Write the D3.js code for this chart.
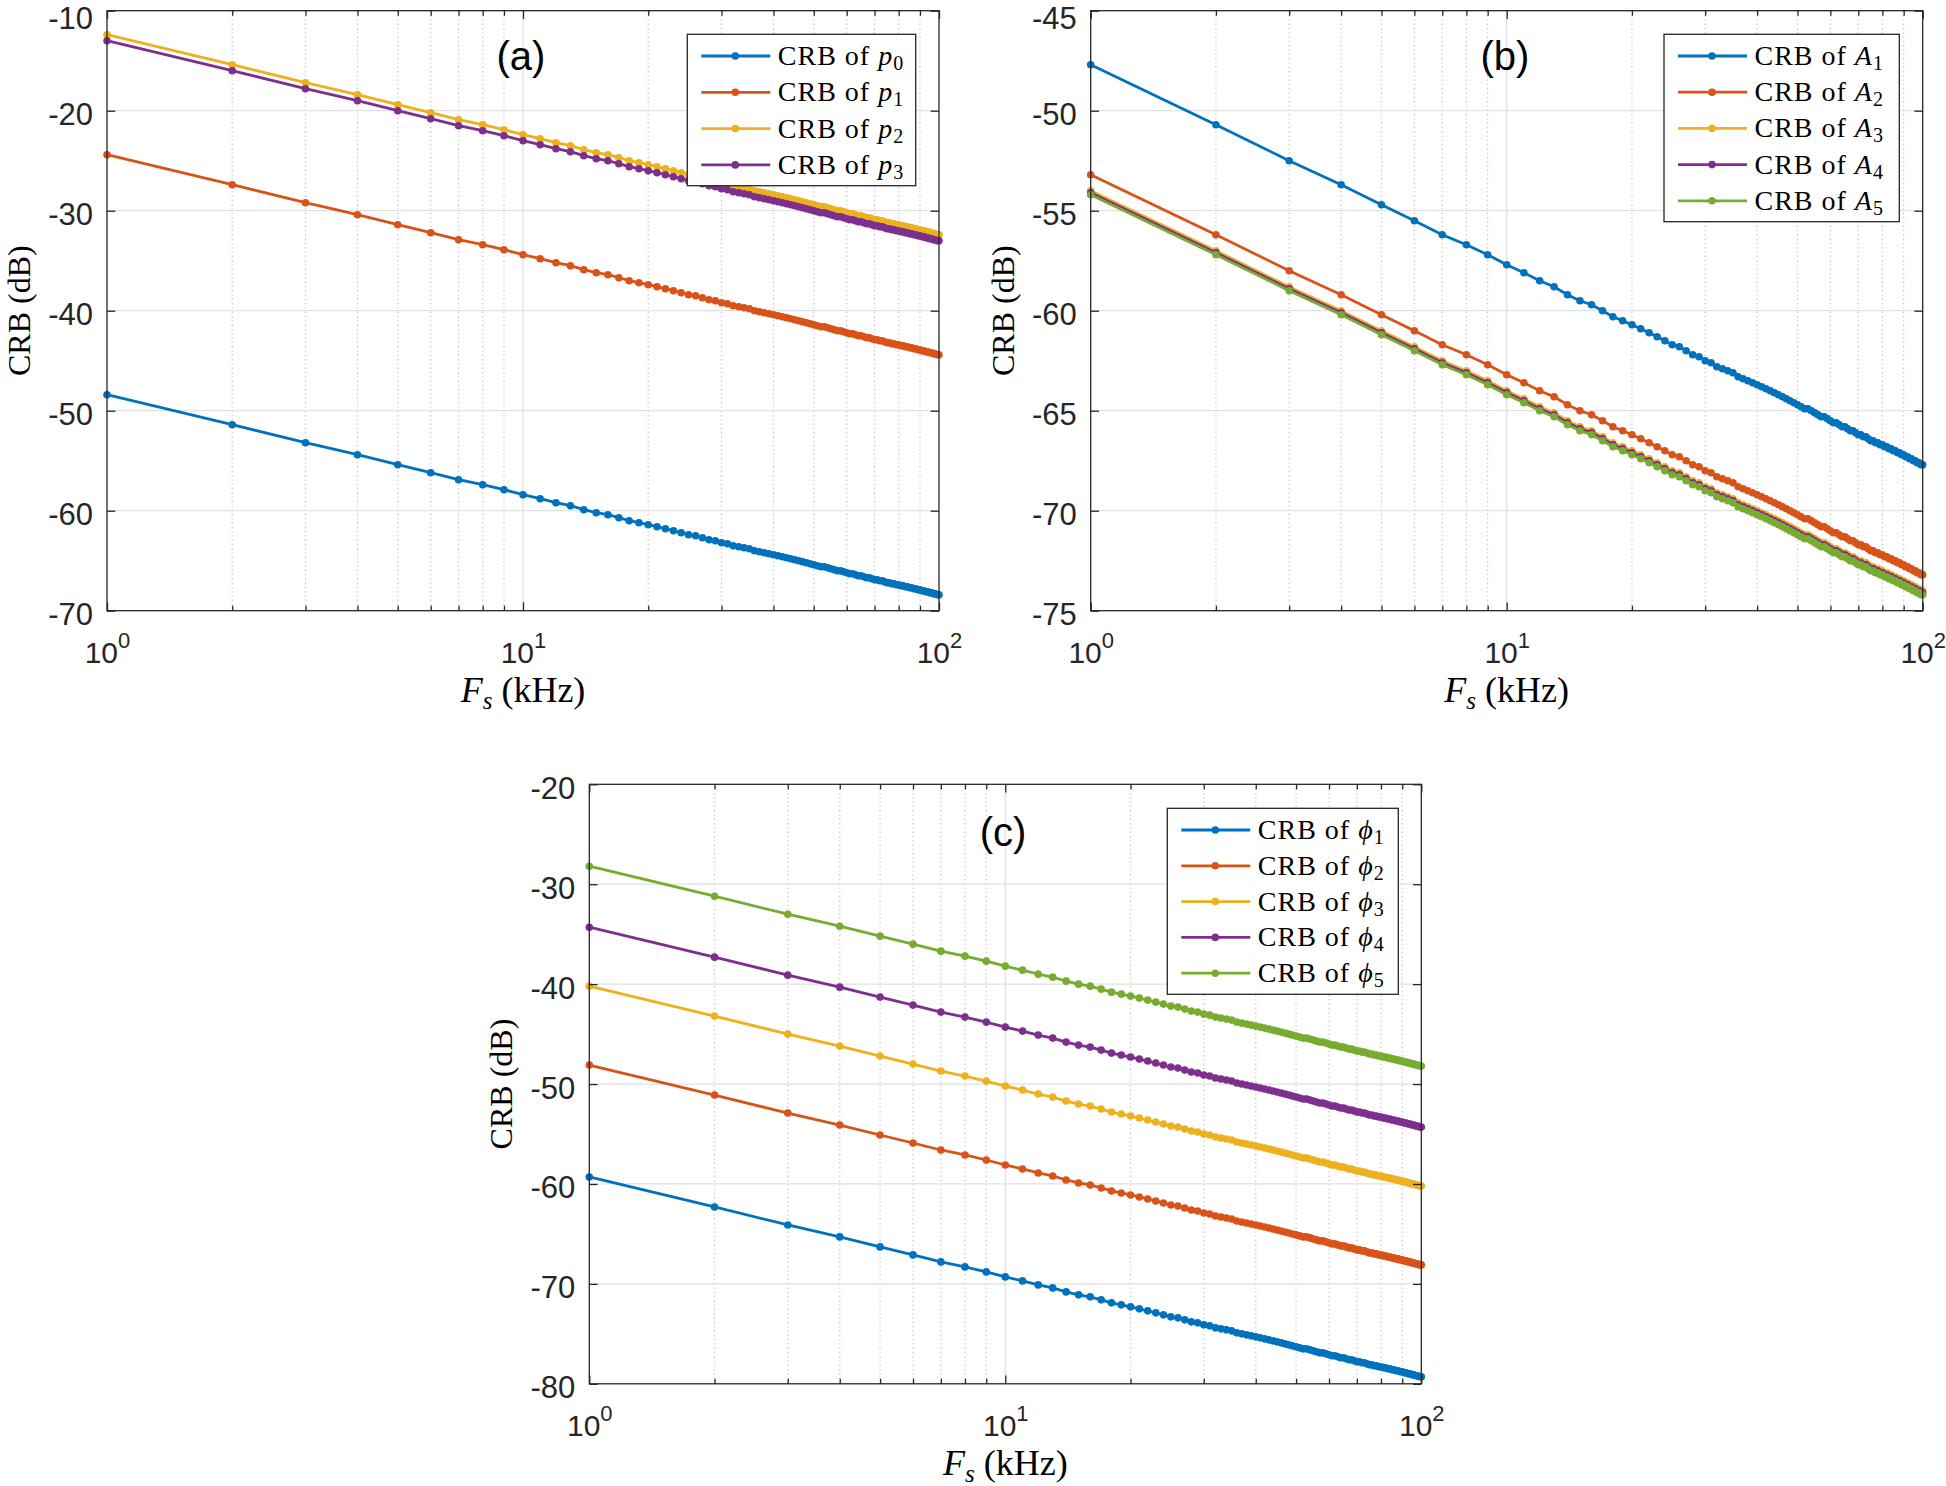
<!DOCTYPE html>
<html><head><meta charset="utf-8">
<script src="https://cdn.jsdelivr.net/npm/d3@7"></script>
<style>body{margin:0;background:#fff}svg{display:block}</style>
</head><body>
<svg id="chart" width="1946" height="1486"></svg>
<script>
// ---------- data ----------
const fsKHz = [1,2,3,4,5,6,7,8,9,10,11,12,13,14,15,16,17,18,19,20,21,22,23,24,25,26,27,28,29,30,31,32,33,34,35,36,37,38,39,40,41,42,43,44,45,46,47,48,49,50,51,52,53,54,55,56,57,58,59,60,61,62,63,64,65,66,67,68,69,70,71,72,73,74,75,76,77,78,79,80,81,82,83,84,85,86,87,88,89,90,91,92,93,94,95,96,97,98,99,100];

const crbP0 = [-48.4,-51.4,-53.2,-54.4,-55.4,-56.2,-56.9,-57.4,-57.9,-58.4,-58.8,-59.2,-59.5,-59.9,-60.2,-60.4,-60.7,-61.0,-61.2,-61.4,-61.6,-61.8,-62.0,-62.2,-62.4,-62.5,-62.7,-62.9,-63.0,-63.2,-63.3,-63.5,-63.6,-63.7,-63.8,-64.0,-64.1,-64.2,-64.3,-64.4,-64.5,-64.6,-64.7,-64.8,-64.9,-65.0,-65.1,-65.2,-65.3,-65.4,-65.5,-65.6,-65.6,-65.7,-65.8,-65.9,-66.0,-66.0,-66.1,-66.2,-66.3,-66.3,-66.4,-66.5,-66.5,-66.6,-66.7,-66.7,-66.8,-66.9,-66.9,-67.0,-67.0,-67.1,-67.2,-67.2,-67.3,-67.3,-67.4,-67.4,-67.5,-67.5,-67.6,-67.6,-67.7,-67.7,-67.8,-67.8,-67.9,-67.9,-68.0,-68.0,-68.1,-68.1,-68.2,-68.2,-68.3,-68.3,-68.4,-68.4];
const crbP1 = [-24.4,-27.4,-29.2,-30.4,-31.4,-32.2,-32.9,-33.4,-33.9,-34.4,-34.8,-35.2,-35.5,-35.9,-36.2,-36.4,-36.7,-37.0,-37.2,-37.4,-37.6,-37.8,-38.0,-38.2,-38.4,-38.5,-38.7,-38.9,-39.0,-39.2,-39.3,-39.5,-39.6,-39.7,-39.8,-40.0,-40.1,-40.2,-40.3,-40.4,-40.5,-40.6,-40.7,-40.8,-40.9,-41.0,-41.1,-41.2,-41.3,-41.4,-41.5,-41.6,-41.6,-41.7,-41.8,-41.9,-42.0,-42.0,-42.1,-42.2,-42.3,-42.3,-42.4,-42.5,-42.5,-42.6,-42.7,-42.7,-42.8,-42.9,-42.9,-43.0,-43.0,-43.1,-43.2,-43.2,-43.3,-43.3,-43.4,-43.4,-43.5,-43.5,-43.6,-43.6,-43.7,-43.7,-43.8,-43.8,-43.9,-43.9,-44.0,-44.0,-44.1,-44.1,-44.2,-44.2,-44.3,-44.3,-44.4,-44.4];
const crbP2 = [-12.4,-15.4,-17.2,-18.4,-19.4,-20.2,-20.9,-21.4,-21.9,-22.4,-22.8,-23.2,-23.5,-23.9,-24.2,-24.4,-24.7,-25.0,-25.2,-25.4,-25.6,-25.8,-26.0,-26.2,-26.4,-26.5,-26.7,-26.9,-27.0,-27.2,-27.3,-27.5,-27.6,-27.7,-27.8,-28.0,-28.1,-28.2,-28.3,-28.4,-28.5,-28.6,-28.7,-28.8,-28.9,-29.0,-29.1,-29.2,-29.3,-29.4,-29.5,-29.6,-29.6,-29.7,-29.8,-29.9,-30.0,-30.0,-30.1,-30.2,-30.3,-30.3,-30.4,-30.5,-30.5,-30.6,-30.7,-30.7,-30.8,-30.9,-30.9,-31.0,-31.0,-31.1,-31.2,-31.2,-31.3,-31.3,-31.4,-31.4,-31.5,-31.5,-31.6,-31.6,-31.7,-31.7,-31.8,-31.8,-31.9,-31.9,-32.0,-32.0,-32.1,-32.1,-32.2,-32.2,-32.3,-32.3,-32.4,-32.4];
const crbP3 = [-13.0,-16.0,-17.8,-19.0,-20.0,-20.8,-21.5,-22.0,-22.5,-23.0,-23.4,-23.8,-24.1,-24.5,-24.8,-25.0,-25.3,-25.6,-25.8,-26.0,-26.2,-26.4,-26.6,-26.8,-27.0,-27.1,-27.3,-27.5,-27.6,-27.8,-27.9,-28.1,-28.2,-28.3,-28.4,-28.6,-28.7,-28.8,-28.9,-29.0,-29.1,-29.2,-29.3,-29.4,-29.5,-29.6,-29.7,-29.8,-29.9,-30.0,-30.1,-30.2,-30.2,-30.3,-30.4,-30.5,-30.6,-30.6,-30.7,-30.8,-30.9,-30.9,-31.0,-31.1,-31.1,-31.2,-31.3,-31.3,-31.4,-31.5,-31.5,-31.6,-31.6,-31.7,-31.8,-31.8,-31.9,-31.9,-32.0,-32.0,-32.1,-32.1,-32.2,-32.2,-32.3,-32.3,-32.4,-32.4,-32.5,-32.5,-32.6,-32.6,-32.7,-32.7,-32.8,-32.8,-32.9,-32.9,-33.0,-33.0];

const crbA1 = [-47.7,-50.7,-52.5,-53.7,-54.7,-55.5,-56.2,-56.7,-57.2,-57.7,-58.1,-58.5,-58.8,-59.2,-59.5,-59.7,-60.0,-60.3,-60.5,-60.7,-60.9,-61.1,-61.3,-61.5,-61.7,-61.8,-62.0,-62.2,-62.3,-62.5,-62.6,-62.8,-62.9,-63.0,-63.1,-63.3,-63.4,-63.5,-63.6,-63.7,-63.8,-63.9,-64.0,-64.1,-64.2,-64.3,-64.4,-64.5,-64.6,-64.7,-64.8,-64.9,-64.9,-65.0,-65.1,-65.2,-65.3,-65.3,-65.4,-65.5,-65.6,-65.6,-65.7,-65.8,-65.8,-65.9,-66.0,-66.0,-66.1,-66.2,-66.2,-66.3,-66.3,-66.4,-66.5,-66.5,-66.6,-66.6,-66.7,-66.7,-66.8,-66.8,-66.9,-66.9,-67.0,-67.0,-67.1,-67.1,-67.2,-67.2,-67.3,-67.3,-67.4,-67.4,-67.5,-67.5,-67.6,-67.6,-67.7,-67.7];
const crbA2 = [-53.2,-56.2,-58.0,-59.2,-60.2,-61.0,-61.7,-62.2,-62.7,-63.2,-63.6,-64.0,-64.3,-64.7,-65.0,-65.2,-65.5,-65.8,-66.0,-66.2,-66.4,-66.6,-66.8,-67.0,-67.2,-67.3,-67.5,-67.7,-67.8,-68.0,-68.1,-68.3,-68.4,-68.5,-68.6,-68.8,-68.9,-69.0,-69.1,-69.2,-69.3,-69.4,-69.5,-69.6,-69.7,-69.8,-69.9,-70.0,-70.1,-70.2,-70.3,-70.4,-70.4,-70.5,-70.6,-70.7,-70.8,-70.8,-70.9,-71.0,-71.1,-71.1,-71.2,-71.3,-71.3,-71.4,-71.5,-71.5,-71.6,-71.7,-71.7,-71.8,-71.8,-71.9,-72.0,-72.0,-72.1,-72.1,-72.2,-72.2,-72.3,-72.3,-72.4,-72.4,-72.5,-72.5,-72.6,-72.6,-72.7,-72.7,-72.8,-72.8,-72.9,-72.9,-73.0,-73.0,-73.1,-73.1,-73.2,-73.2];
const crbA3 = [-54.0,-57.0,-58.8,-60.0,-61.0,-61.8,-62.5,-63.0,-63.5,-64.0,-64.4,-64.8,-65.1,-65.5,-65.8,-66.0,-66.3,-66.6,-66.8,-67.0,-67.2,-67.4,-67.6,-67.8,-68.0,-68.1,-68.3,-68.5,-68.6,-68.8,-68.9,-69.1,-69.2,-69.3,-69.4,-69.6,-69.7,-69.8,-69.9,-70.0,-70.1,-70.2,-70.3,-70.4,-70.5,-70.6,-70.7,-70.8,-70.9,-71.0,-71.1,-71.2,-71.2,-71.3,-71.4,-71.5,-71.6,-71.6,-71.7,-71.8,-71.9,-71.9,-72.0,-72.1,-72.1,-72.2,-72.3,-72.3,-72.4,-72.5,-72.5,-72.6,-72.6,-72.7,-72.8,-72.8,-72.9,-72.9,-73.0,-73.0,-73.1,-73.1,-73.2,-73.2,-73.3,-73.3,-73.4,-73.4,-73.5,-73.5,-73.6,-73.6,-73.7,-73.7,-73.8,-73.8,-73.9,-73.9,-74.0,-74.0];
const crbA4 = [-54.1,-57.1,-58.9,-60.1,-61.1,-61.9,-62.6,-63.1,-63.6,-64.1,-64.5,-64.9,-65.2,-65.6,-65.9,-66.1,-66.4,-66.7,-66.9,-67.1,-67.3,-67.5,-67.7,-67.9,-68.1,-68.2,-68.4,-68.6,-68.7,-68.9,-69.0,-69.2,-69.3,-69.4,-69.5,-69.7,-69.8,-69.9,-70.0,-70.1,-70.2,-70.3,-70.4,-70.5,-70.6,-70.7,-70.8,-70.9,-71.0,-71.1,-71.2,-71.3,-71.3,-71.4,-71.5,-71.6,-71.7,-71.7,-71.8,-71.9,-72.0,-72.0,-72.1,-72.2,-72.2,-72.3,-72.4,-72.4,-72.5,-72.6,-72.6,-72.7,-72.7,-72.8,-72.9,-72.9,-73.0,-73.0,-73.1,-73.1,-73.2,-73.2,-73.3,-73.3,-73.4,-73.4,-73.5,-73.5,-73.6,-73.6,-73.7,-73.7,-73.8,-73.8,-73.9,-73.9,-74.0,-74.0,-74.1,-74.1];
const crbA5 = [-54.2,-57.2,-59.0,-60.2,-61.2,-62.0,-62.7,-63.2,-63.7,-64.2,-64.6,-65.0,-65.3,-65.7,-66.0,-66.2,-66.5,-66.8,-67.0,-67.2,-67.4,-67.6,-67.8,-68.0,-68.2,-68.3,-68.5,-68.7,-68.8,-69.0,-69.1,-69.3,-69.4,-69.5,-69.6,-69.8,-69.9,-70.0,-70.1,-70.2,-70.3,-70.4,-70.5,-70.6,-70.7,-70.8,-70.9,-71.0,-71.1,-71.2,-71.3,-71.4,-71.4,-71.5,-71.6,-71.7,-71.8,-71.8,-71.9,-72.0,-72.1,-72.1,-72.2,-72.3,-72.3,-72.4,-72.5,-72.5,-72.6,-72.7,-72.7,-72.8,-72.8,-72.9,-73.0,-73.0,-73.1,-73.1,-73.2,-73.2,-73.3,-73.3,-73.4,-73.4,-73.5,-73.5,-73.6,-73.6,-73.7,-73.7,-73.8,-73.8,-73.9,-73.9,-74.0,-74.0,-74.1,-74.1,-74.2,-74.2];

const crbPhi1 = [-59.3,-62.3,-64.1,-65.3,-66.3,-67.1,-67.8,-68.3,-68.8,-69.3,-69.7,-70.1,-70.4,-70.8,-71.1,-71.3,-71.6,-71.9,-72.1,-72.3,-72.5,-72.7,-72.9,-73.1,-73.3,-73.4,-73.6,-73.8,-73.9,-74.1,-74.2,-74.4,-74.5,-74.6,-74.7,-74.9,-75.0,-75.1,-75.2,-75.3,-75.4,-75.5,-75.6,-75.7,-75.8,-75.9,-76.0,-76.1,-76.2,-76.3,-76.4,-76.5,-76.5,-76.6,-76.7,-76.8,-76.9,-76.9,-77.0,-77.1,-77.2,-77.2,-77.3,-77.4,-77.4,-77.5,-77.6,-77.6,-77.7,-77.8,-77.8,-77.9,-77.9,-78.0,-78.1,-78.1,-78.2,-78.2,-78.3,-78.3,-78.4,-78.4,-78.5,-78.5,-78.6,-78.6,-78.7,-78.7,-78.8,-78.8,-78.9,-78.9,-79.0,-79.0,-79.1,-79.1,-79.2,-79.2,-79.3,-79.3];
const crbPhi2 = [-48.1,-51.1,-52.9,-54.1,-55.1,-55.9,-56.6,-57.1,-57.6,-58.1,-58.5,-58.9,-59.2,-59.6,-59.9,-60.1,-60.4,-60.7,-60.9,-61.1,-61.3,-61.5,-61.7,-61.9,-62.1,-62.2,-62.4,-62.6,-62.7,-62.9,-63.0,-63.2,-63.3,-63.4,-63.5,-63.7,-63.8,-63.9,-64.0,-64.1,-64.2,-64.3,-64.4,-64.5,-64.6,-64.7,-64.8,-64.9,-65.0,-65.1,-65.2,-65.3,-65.3,-65.4,-65.5,-65.6,-65.7,-65.7,-65.8,-65.9,-66.0,-66.0,-66.1,-66.2,-66.2,-66.3,-66.4,-66.4,-66.5,-66.6,-66.6,-66.7,-66.7,-66.8,-66.9,-66.9,-67.0,-67.0,-67.1,-67.1,-67.2,-67.2,-67.3,-67.3,-67.4,-67.4,-67.5,-67.5,-67.6,-67.6,-67.7,-67.7,-67.8,-67.8,-67.9,-67.9,-68.0,-68.0,-68.1,-68.1];
const crbPhi3 = [-40.2,-43.2,-45.0,-46.2,-47.2,-48.0,-48.7,-49.2,-49.7,-50.2,-50.6,-51.0,-51.3,-51.7,-52.0,-52.2,-52.5,-52.8,-53.0,-53.2,-53.4,-53.6,-53.8,-54.0,-54.2,-54.3,-54.5,-54.7,-54.8,-55.0,-55.1,-55.3,-55.4,-55.5,-55.6,-55.8,-55.9,-56.0,-56.1,-56.2,-56.3,-56.4,-56.5,-56.6,-56.7,-56.8,-56.9,-57.0,-57.1,-57.2,-57.3,-57.4,-57.4,-57.5,-57.6,-57.7,-57.8,-57.8,-57.9,-58.0,-58.1,-58.1,-58.2,-58.3,-58.3,-58.4,-58.5,-58.5,-58.6,-58.7,-58.7,-58.8,-58.8,-58.9,-59.0,-59.0,-59.1,-59.1,-59.2,-59.2,-59.3,-59.3,-59.4,-59.4,-59.5,-59.5,-59.6,-59.6,-59.7,-59.7,-59.8,-59.8,-59.9,-59.9,-60.0,-60.0,-60.1,-60.1,-60.2,-60.2];
const crbPhi4 = [-34.3,-37.3,-39.1,-40.3,-41.3,-42.1,-42.8,-43.3,-43.8,-44.3,-44.7,-45.1,-45.4,-45.8,-46.1,-46.3,-46.6,-46.9,-47.1,-47.3,-47.5,-47.7,-47.9,-48.1,-48.3,-48.4,-48.6,-48.8,-48.9,-49.1,-49.2,-49.4,-49.5,-49.6,-49.7,-49.9,-50.0,-50.1,-50.2,-50.3,-50.4,-50.5,-50.6,-50.7,-50.8,-50.9,-51.0,-51.1,-51.2,-51.3,-51.4,-51.5,-51.5,-51.6,-51.7,-51.8,-51.9,-51.9,-52.0,-52.1,-52.2,-52.2,-52.3,-52.4,-52.4,-52.5,-52.6,-52.6,-52.7,-52.8,-52.8,-52.9,-52.9,-53.0,-53.1,-53.1,-53.2,-53.2,-53.3,-53.3,-53.4,-53.4,-53.5,-53.5,-53.6,-53.6,-53.7,-53.7,-53.8,-53.8,-53.9,-53.9,-54.0,-54.0,-54.1,-54.1,-54.2,-54.2,-54.3,-54.3];
const crbPhi5 = [-28.2,-31.2,-33.0,-34.2,-35.2,-36.0,-36.7,-37.2,-37.7,-38.2,-38.6,-39.0,-39.3,-39.7,-40.0,-40.2,-40.5,-40.8,-41.0,-41.2,-41.4,-41.6,-41.8,-42.0,-42.2,-42.3,-42.5,-42.7,-42.8,-43.0,-43.1,-43.3,-43.4,-43.5,-43.6,-43.8,-43.9,-44.0,-44.1,-44.2,-44.3,-44.4,-44.5,-44.6,-44.7,-44.8,-44.9,-45.0,-45.1,-45.2,-45.3,-45.4,-45.4,-45.5,-45.6,-45.7,-45.8,-45.8,-45.9,-46.0,-46.1,-46.1,-46.2,-46.3,-46.3,-46.4,-46.5,-46.5,-46.6,-46.7,-46.7,-46.8,-46.8,-46.9,-47.0,-47.0,-47.1,-47.1,-47.2,-47.2,-47.3,-47.3,-47.4,-47.4,-47.5,-47.5,-47.6,-47.6,-47.7,-47.7,-47.8,-47.8,-47.9,-47.9,-48.0,-48.0,-48.1,-48.1,-48.2,-48.2];

const xTickValues = [1, 10, 100];
const xTickExponents = ["0", "1", "2"];
const xMinorValues = [2,3,4,5,6,7,8,9,20,30,40,50,60,70,80,90];
const yTicksA = [-70,-60,-50,-40,-30,-20,-10];
const yTicksB = [-75,-70,-65,-60,-55,-50,-45];
const yTicksC = [-80,-70,-60,-50,-40,-30,-20];
const legendSubsA = ["0","1","2","3"];
const legendSubsB = ["1","2","3","4","5"];
const legendSubsC = ["1","2","3","4","5"];
const seriesColors = ["#0072BD","#D95319","#EDB120","#7E2F8E","#77AC30"];

// ---------- layout ----------
const panels = [
  {label:"(a)", left:107, top:10.7, w:832, h:600, yDomain:[-70,-10], yTicks:yTicksA,
   series:[crbP0,crbP1,crbP2,crbP3], sym:"p", subs:legendSubsA,
   legend:{x:687.3, y:34.3, w:228.4, h:151.4, row0:21.7, dy:36.3}, tag:[521,70]},
  {label:"(b)", left:1090.7, top:10.7, w:832, h:600, yDomain:[-75,-45], yTicks:yTicksB,
   series:[crbA1,crbA2,crbA3,crbA4,crbA5], sym:"A", subs:legendSubsB,
   legend:{x:1664, y:34.3, w:235.3, h:187.4, row0:21.7, dy:36.2}, tag:[1505,70]},
  {label:"(c)", left:589.3, top:784.3, w:832, h:599.5, yDomain:[-80,-20], yTicks:yTicksC,
   series:[crbPhi1,crbPhi2,crbPhi3,crbPhi4,crbPhi5], sym:"\u03D5", subs:legendSubsC,
   legend:{x:1167.3, y:808.3, w:231, h:186, row0:21.7, dy:35.8}, tag:[1003,846]}
];

const svg = d3.select("#chart");
svg.append("rect").attr("width",1946).attr("height",1486).attr("fill","#fff");
const AX = "#262626";
const sans = "'Liberation Sans', Arial, Helvetica, sans-serif";
const serif = "'Liberation Serif', 'Times New Roman', serif";

panels.forEach(p => {
  const x = d3.scaleLog().domain([1,100]).range([p.left, p.left + p.w]);
  const y = d3.scaleLinear().domain(p.yDomain).range([p.top + p.h, p.top]);
  const g = svg.append("g");
  const bottom = p.top + p.h, right = p.left + p.w;

  // minor x grid (dotted)
  g.append("g").selectAll("line").data(xMinorValues).join("line")
    .attr("x1", d => x(d)).attr("x2", d => x(d))
    .attr("y1", p.top).attr("y2", bottom)
    .attr("stroke", "#c4c4c4").attr("stroke-width", 1.2)
    .attr("stroke-dasharray", "1.3,3");
  // major grid
  g.append("g").selectAll("line").data([10]).join("line")
    .attr("x1", d => x(d)).attr("x2", d => x(d))
    .attr("y1", p.top).attr("y2", bottom)
    .attr("stroke", "#e1e1e1").attr("stroke-width", 1.3);
  g.append("g").selectAll("line").data(p.yTicks.slice(1, -1)).join("line")
    .attr("x1", p.left).attr("x2", right)
    .attr("y1", d => y(d)).attr("y2", d => y(d))
    .attr("stroke", "#e1e1e1").attr("stroke-width", 1.3);

  // series
  const line = d3.line().x((d, j) => x(fsKHz[j])).y(d => y(d));
  p.series.forEach((s, i) => {
    g.append("path").datum(s).attr("d", line)
      .attr("fill", "none").attr("stroke", seriesColors[i]).attr("stroke-width", 2.8);
    g.append("g").selectAll("circle").data(s).join("circle")
      .attr("cx", (d, j) => x(fsKHz[j])).attr("cy", d => y(d))
      .attr("r", 3.8).attr("fill", seriesColors[i]);
  });

  // axes
  const styleAxis = sel => {
    sel.select(".domain").remove();
    sel.selectAll(".tick line").attr("stroke", AX).attr("stroke-width", 1.3);
  };
  const topTick = p.yDomain[1];
  g.append("g").attr("transform", `translate(${p.left},0)`)
    .call(d3.axisLeft(y).tickValues(p.yTicks).tickSize(-8.3).tickSizeOuter(0).tickPadding(14).tickFormat(d => String(d)))
    .call(styleAxis)
    .call(a => a.selectAll(".tick text").attr("font-family", sans).attr("font-size", 31)
      .attr("fill", AX).attr("dy", d => (d === topTick && p.top < 20) ? "0.58em" : "0.45em"));
  g.append("g").attr("transform", `translate(${right},0)`)
    .call(d3.axisRight(y).tickValues(p.yTicks).tickSize(-8.3).tickSizeOuter(0).tickFormat(""))
    .call(styleAxis);
  g.append("g").attr("transform", `translate(0,${bottom})`)
    .call(d3.axisBottom(x).tickValues(xTickValues).tickSize(-8.3).tickSizeOuter(0).tickFormat(""))
    .call(styleAxis)
    .call(a => a.selectAll(".tick text").attr("y", 52).attr("dy", null)
      .attr("font-family", sans).attr("font-size", 30).attr("fill", AX)
      .each(function(d, i) {
        const t = d3.select(this);
        t.append("tspan").text("10");
        t.append("tspan").attr("dy", -15).attr("font-size", 22).text(xTickExponents[i]);
      }));
  g.append("g").attr("transform", `translate(0,${bottom})`)
    .call(d3.axisBottom(x).tickValues(xMinorValues).tickSize(-5).tickSizeOuter(0).tickFormat(""))
    .call(styleAxis);
  g.append("g").attr("transform", `translate(0,${p.top})`)
    .call(d3.axisTop(x).tickValues(xTickValues).tickSize(-8.3).tickSizeOuter(0).tickFormat(""))
    .call(styleAxis);
  g.append("g").attr("transform", `translate(0,${p.top})`)
    .call(d3.axisTop(x).tickValues(xMinorValues).tickSize(-5).tickSizeOuter(0).tickFormat(""))
    .call(styleAxis);
  g.append("rect").attr("x", p.left).attr("y", p.top).attr("width", p.w).attr("height", p.h)
    .attr("fill", "none").attr("stroke", AX).attr("stroke-width", 1.3);

  // axis labels
  const xl = g.append("text").attr("x", p.left + p.w / 2).attr("y", bottom + 91)
    .attr("text-anchor", "middle").attr("font-family", serif).attr("font-size", 36).attr("fill", "#000");
  xl.append("tspan").attr("font-style", "italic").text("F");
  xl.append("tspan").attr("font-style", "italic").attr("font-size", 25).attr("dy", 7).text("s");
  xl.append("tspan").attr("dy", -7).text(" (kHz)");
  g.append("text").attr("transform", `translate(${p.left - 88},${p.top + p.h / 2}) rotate(-90)`)
    .attr("text-anchor", "middle").attr("dominant-baseline", "central")
    .attr("font-family", serif).attr("font-size", 32).attr("fill", "#000").text("CRB (dB)");

  // panel tag
  g.append("text").attr("x", p.tag[0]).attr("y", p.tag[1]).attr("text-anchor", "middle")
    .attr("font-family", sans).attr("font-size", 40).attr("fill", "#000").text(p.label);

  // legend
  const L = p.legend;
  const lg = g.append("g");
  lg.append("rect").attr("x", L.x).attr("y", L.y).attr("width", L.w).attr("height", L.h)
    .attr("fill", "#fff").attr("stroke", AX).attr("stroke-width", 1.3);
  p.subs.forEach((sub, i) => {
    const cy = L.y + L.row0 + i * L.dy;
    lg.append("line").attr("x1", L.x + 14).attr("x2", L.x + 83).attr("y1", cy).attr("y2", cy)
      .attr("stroke", seriesColors[i]).attr("stroke-width", 2.8);
    lg.append("circle").attr("cx", L.x + 48).attr("cy", cy).attr("r", 3.8).attr("fill", seriesColors[i]);
    const t = lg.append("text").attr("x", L.x + 90.5).attr("y", cy + 9)
      .attr("font-family", serif).attr("font-size", 28).attr("letter-spacing", 1).attr("fill", "#000");
    t.append("tspan").text("CRB of ");
    t.append("tspan").attr("font-style", "italic").text(p.sym);
    t.append("tspan").attr("font-size", 20).attr("dy", 5).text(sub);
  });
});
</script>
</body></html>
